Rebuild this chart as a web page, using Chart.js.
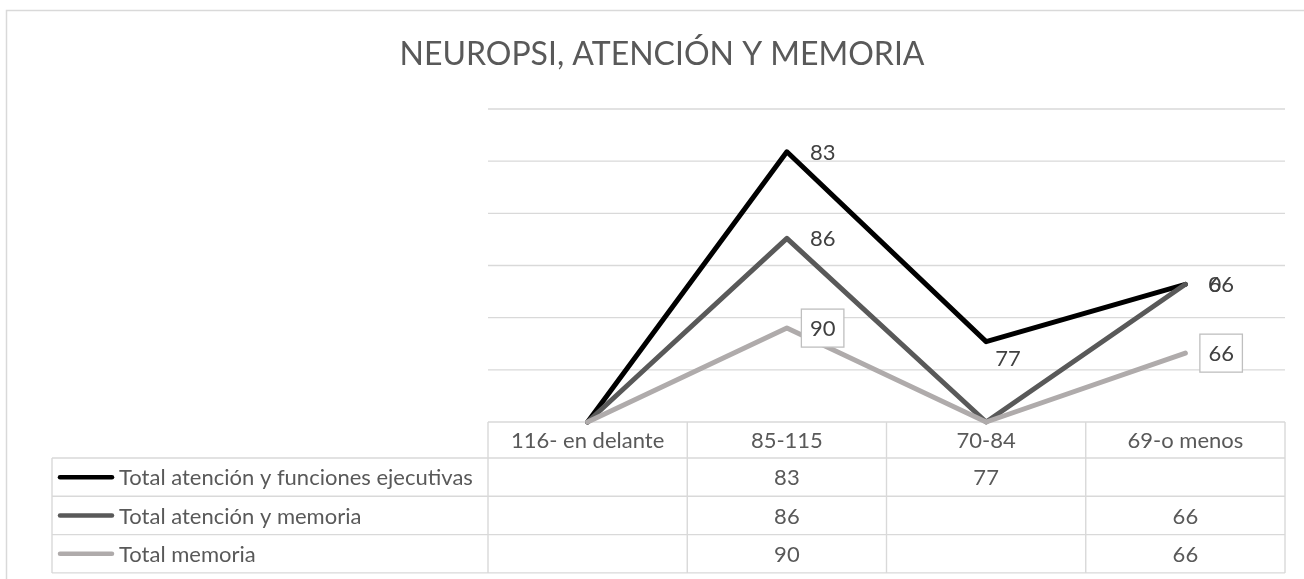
<!DOCTYPE html>
<html><head><meta charset="utf-8">
<script src="https://cdn.jsdelivr.net/npm/chart.js@4"></script>
<style>html,body{margin:0;padding:0;background:#fff}#wrap{width:1304px;height:579px}</style>
</head><body><div id="wrap"><canvas id="c" width="1304" height="579"></canvas></div>
<script>
const chartTitle = 'NEUROPSI, ATENCIÓN Y MEMORIA';
const categories = ['116- en delante', '85-115', '70-84', '69-o menos'];
const seriesNames = ['Total atención y funciones ejecutivas', 'Total atención y memoria', 'Total memoria'];
// blanks (null) are plotted as zero, like the original spreadsheet
const funciones = [null, 83, 77, null];
const atencionMemoria = [null, 86, null, 66];
const memoria = [null, 90, null, 66];
const yTicks = [0, 50, 100, 150, 200, 250, 300];

const FONT = 'Lato, "Open Sans", sans-serif';
const TEXT = '#595959';
const GRID = '#d9d9d9';

const tableRows = [
  {name: seriesNames[0], values: funciones, color: '#000000'},
  {name: seriesNames[1], values: atencionMemoria, color: '#595959'},
  {name: seriesNames[2], values: memoria, color: '#afabab'}
];

const plotted = arr => arr.map(v => v == null ? 0 : v);

const excelPlugin = {
  id: 'excel',
  beforeDatasetsDraw(chart) {
    const ctx = chart.ctx, y = chart.scales.y, a = chart.chartArea;
    ctx.save();
    ctx.strokeStyle = GRID; ctx.lineWidth = 1.4;
    yTicks.forEach(t => {
      const py = y.getPixelForValue(t);
      ctx.beginPath(); ctx.moveTo(a.left, py); ctx.lineTo(a.right, py); ctx.stroke();
    });
    ctx.restore();
  },
  afterDatasetsDraw(chart) {
    const ctx = chart.ctx;
    ctx.save();
    ctx.font = '22px ' + FONT;
    ctx.textBaseline = 'middle';
    ctx.textAlign = 'left';
    chart.data.datasets.forEach((ds, di) => {
      const meta = chart.getDatasetMeta(di);
      ds.labelTexts.forEach((txt, i) => {
        if (txt == null) return;
        const p = meta.data[i];
        let tx = p.x + 23, ty = p.y;
        if (ds.labelBelow && ds.labelBelow[i]) { tx = p.x + 9; ty = p.y + 16; }
        const w = ctx.measureText(txt).width;
        if (ds.labelBox) {
          ctx.fillStyle = '#fff';
          ctx.fillRect(tx - 8.5, ty - 19, w + 17, 38);
          ctx.strokeStyle = '#bfbfbf'; ctx.lineWidth = 1.3;
          ctx.strokeRect(tx - 8.5, ty - 19, w + 17, 38);
        }
        ctx.fillStyle = '#404040';
        ctx.fillText(txt, tx, ty + 1);
      });
    });
    ctx.restore();
  },
  afterDraw(chart) {
    const ctx = chart.ctx, x = chart.scales.x, y = chart.scales.y, a = chart.chartArea;
    ctx.save();
    // outer chart border
    ctx.strokeStyle = GRID; ctx.lineWidth = 1.5;
    ctx.strokeRect(6.5, 10.5, 1400, 700);
    // title
    ctx.fillStyle = TEXT;
    ctx.font = '32px ' + FONT;
    ctx.textAlign = 'center'; ctx.textBaseline = 'middle';
    ctx.fillText(chartTitle, 662, 55);
    // data table
    const band = (x.getPixelForValue(1) - x.getPixelForValue(0));
    const colEdges = categories.map((c, i) => x.getPixelForValue(i) - band / 2);
    colEdges.push(x.getPixelForValue(categories.length - 1) + band / 2);
    const top = y.getPixelForValue(0);
    const headH = 36, rowH = 38.3, tableLeft = 52;
    const rowTops = [top + headH, top + headH + rowH, top + headH + 2 * rowH, top + headH + 3 * rowH];
    ctx.strokeStyle = GRID; ctx.lineWidth = 1.4;
    colEdges.forEach(cx => { ctx.beginPath(); ctx.moveTo(cx, top); ctx.lineTo(cx, rowTops[3]); ctx.stroke(); });
    ctx.beginPath(); ctx.moveTo(tableLeft, rowTops[0]); ctx.lineTo(tableLeft, rowTops[3]); ctx.stroke();
    rowTops.forEach(ry => { ctx.beginPath(); ctx.moveTo(tableLeft, ry); ctx.lineTo(a.right, ry); ctx.stroke(); });
    ctx.font = '22px ' + FONT;
    ctx.fillStyle = TEXT; ctx.textBaseline = 'middle'; ctx.textAlign = 'center';
    categories.forEach((c, i) => ctx.fillText(c, x.getPixelForValue(i), top + headH / 2 + 1));
    tableRows.forEach((r, ri) => {
      const cy = rowTops[ri] + rowH / 2;
      ctx.strokeStyle = r.color; ctx.lineWidth = 4.5; ctx.lineCap = 'round';
      ctx.beginPath(); ctx.moveTo(60, cy); ctx.lineTo(112, cy); ctx.stroke();
      ctx.fillStyle = TEXT; ctx.textAlign = 'left';
      ctx.fillText(r.name, 119, cy + 1);
      ctx.textAlign = 'center';
      r.values.forEach((v, i) => { if (v != null) ctx.fillText(String(v), x.getPixelForValue(i), cy + 1); });
    });
    ctx.restore();
  }
};

const lineBase = {fill: false, borderWidth: 5, pointRadius: 0, tension: 0, borderJoinStyle: 'round', borderCapStyle: 'round', clip: false};

new Chart(document.getElementById('c'), {
  type: 'line',
  data: {
    labels: categories,
    datasets: [
      Object.assign({}, lineBase, {label: seriesNames[2], data: plotted(memoria), borderColor: '#afabab',
        labelTexts: memoria.map(v => v == null ? null : String(v)), labelBox: true}),
      Object.assign({}, lineBase, {label: seriesNames[1], data: plotted(atencionMemoria), borderColor: '#595959',
        labelTexts: atencionMemoria.map(v => v == null ? null : String(v))}),
      Object.assign({}, lineBase, {label: seriesNames[0], data: plotted(funciones), borderColor: '#000000',
        labelTexts: funciones.map((v, i) => v == null ? (i === 3 ? '0' : null) : String(v)), labelBelow: [false, false, true, false]})
    ]
  },
  options: {
    responsive: false, animation: false, devicePixelRatio: 1,
    layout: {padding: {left: 488, right: 19, top: 109, bottom: 157}},
    plugins: {legend: {display: false}, title: {display: false}, tooltip: {enabled: false}},
    scales: {
      x: {display: false, offset: true},
      y: {display: false, stacked: true, min: 0, max: 300}
    }
  },
  plugins: [excelPlugin]
});
</script></body></html>
